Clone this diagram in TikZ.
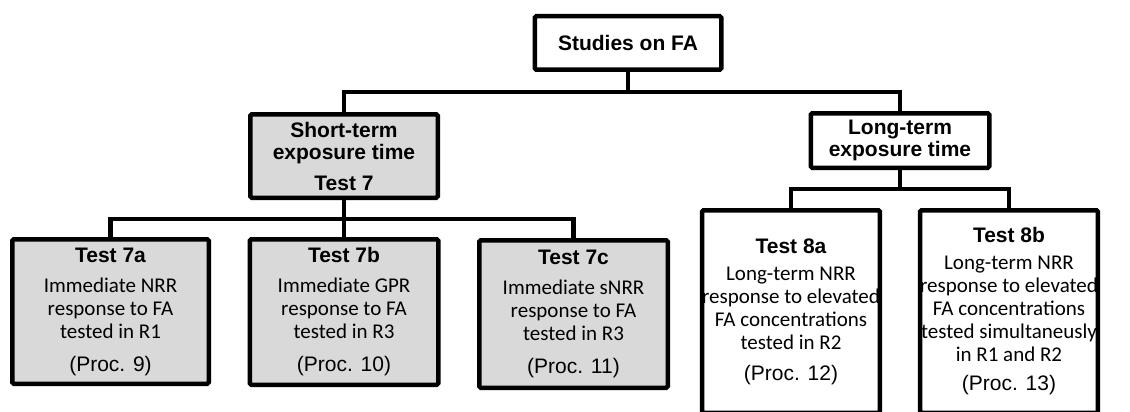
\documentclass[tikz,border=0pt]{standalone}
\usepackage{fontspec}
\setmainfont{Liberation Sans}
\newfontfamily\bodyfont{Carlito}
\definecolor{boxgray}{HTML}{D9D9D9}
\begin{document}
\begin{tikzpicture}[x=1pt,y=-1pt,
  box/.style={draw=black, line width=4.5pt, rounded corners=1.5pt, align=center,
    inner sep=0pt, font=\fontsize{21}{23}\selectfont},
  graybox/.style={box, fill=boxgray},
  whitebox/.style={box, fill=white},
  conn/.style={draw=black, line width=4.5pt, line join=miter}]
\useasboundingbox (0,0) rectangle (1130,412);

% top level
\node[whitebox, minimum width=186.5pt, minimum height=53.5pt] (fa) at (628,43)
  {\bfseries Studies on FA};

% second level
\node[graybox, minimum width=187.5pt, minimum height=83.5pt] (st) at (344,156)
  {\bfseries Short-term\\[-1pt]\bfseries exposure time\\[8pt]\bfseries Test 7};
\node[whitebox, minimum width=178.5pt, minimum height=54.5pt] (lt) at (900,140.5)
  {\bfseries Long-term\\[-1pt]\bfseries exposure time};

% short-term tests
\node[graybox, minimum width=196.5pt, minimum height=144.5pt] (t7a) at (110.5,311.5)
  {\bfseries Test 7a\\[7pt]\bodyfont Immediate NRR\\\bodyfont response to FA\\\bodyfont tested in R1\\[10pt](Proc. 9)};
\node[graybox, minimum width=188.5pt, minimum height=145.5pt] (t7b) at (344,312)
  {\bfseries Test 7b\\[7pt]\bodyfont Immediate GPR\\\bodyfont response to FA\\\bodyfont tested in R3\\[10pt](Proc. 10)};
\node[graybox, minimum width=188.5pt, minimum height=147.5pt] (t7c) at (573.5,314)
  {\bfseries Test 7c\\[7pt]\bodyfont Immediate sNRR\\\bodyfont response to FA\\\bodyfont tested in R3\\[10pt](Proc. 11)};

% long-term tests
\node[whitebox, minimum width=177.5pt, minimum height=202.5pt] (t8a) at (791,311.5)
  {\bfseries Test 8a\\[4pt]\bodyfont Long-term NRR\\\bodyfont response to elevated\\\bodyfont FA concentrations\\\bodyfont tested in R2\\[8pt](Proc. 12)};
\node[whitebox, minimum width=177.5pt, minimum height=202.5pt] (t8b) at (1009,311.5)
  {\bfseries Test 8b\\[4pt]\bodyfont Long-term NRR\\\bodyfont response to elevated\\\bodyfont FA concentrations\\\bodyfont tested simultaneusly\\\bodyfont in R1 and R2\\[6pt](Proc. 13)};

% junction points of the tree
\coordinate (j1) at (628,92);
\coordinate (j2) at (344,219);
\coordinate (j3) at (900,189);

% connectors
\draw[conn] (fa.south) -- (j1);
\draw[conn] (st.north) |- (j1) -| (lt.north);
\draw[conn] (st.south) -- (t7b.north);
\draw[conn] (t7a.north) |- (j2) -| (t7c.north);
\draw[conn] (lt.south) -- (j3);
\draw[conn] (t8a.north) |- (j3) -| (t8b.north);
\end{tikzpicture}
\end{document}
